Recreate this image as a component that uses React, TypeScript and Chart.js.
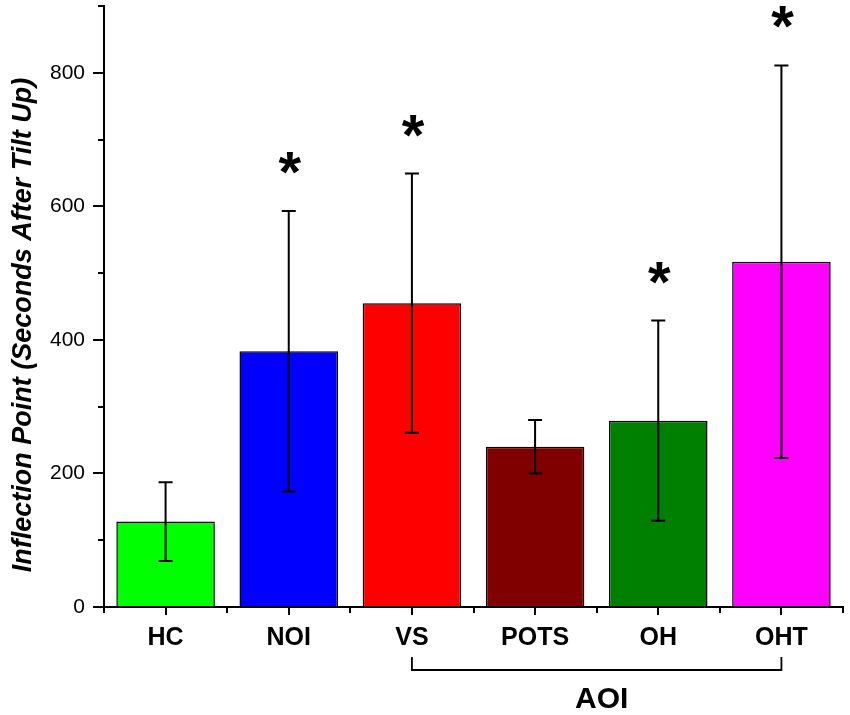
import React, { useEffect, useRef } from "react";
import { Chart, registerables } from "chart.js";

Chart.register(...registerables);

const categories = ["HC", "NOI", "VS", "POTS", "OH", "OHT"];
const means = [128, 383, 455, 240, 279, 517];
const errors = [59, 210, 194, 40, 150, 294];
const colors = ["#00ff00", "#0000ff", "#ff0000", "#800000", "#008000", "#ff00ff"];
const starred = [false, true, true, false, true, true];
const minorY = [100, 300, 500, 700, 900];
const yTitle = "Inflection Point (Seconds After Tilt Up)";
const groupLabel = "AOI";
const groupFrom = 2;
const groupTo = 5;

const FONT = "'Liberation Sans', Arial, sans-serif";

const overlay = {
  id: "overlay",
  afterDraw(chart: any) {
    const { ctx, chartArea } = chart;
    const x = chart.scales.x;
    const y = chart.scales.y;
    ctx.save();
    ctx.strokeStyle = "#000";
    ctx.fillStyle = "#000";

    // minor ticks on y
    ctx.lineWidth = 2;
    minorY.forEach((v) => {
      const py = Math.round(y.getPixelForValue(v));
      ctx.beginPath();
      ctx.moveTo(chartArea.left - 6, py);
      ctx.lineTo(chartArea.left, py);
      ctx.stroke();
    });

    // minor ticks on x at category boundaries
    for (let i = -1; i < categories.length; i++) {
      const px = Math.round(x.getPixelForValue(i + 0.5));
      ctx.beginPath();
      ctx.moveTo(px, chartArea.bottom);
      ctx.lineTo(px, chartArea.bottom + 6);
      ctx.stroke();
    }

    // error bars and stars
    ctx.lineWidth = 2;
    means.forEach((m, i) => {
      const cx = x.getPixelForValue(i);
      const top = y.getPixelForValue(m + errors[i]);
      const bot = y.getPixelForValue(m - errors[i]);
      ctx.beginPath();
      ctx.moveTo(cx, top);
      ctx.lineTo(cx, bot);
      ctx.moveTo(cx - 7, top);
      ctx.lineTo(cx + 7, top);
      ctx.moveTo(cx - 7, bot);
      ctx.lineTo(cx + 7, bot);
      ctx.stroke();
      if (starred[i]) {
        ctx.font = `bold 58px ${FONT}`;
        ctx.textAlign = "center";
        ctx.textBaseline = "alphabetic";
        const mt = ctx.measureText("*");
        const asc = mt.actualBoundingBoxAscent;
        const desc = mt.actualBoundingBoxDescent;
        const center = top - 48;
        ctx.fillText("*", cx + 1, center + (asc - desc) / 2);
      }
    });

    // bracket
    const bx1 = x.getPixelForValue(groupFrom);
    const bx2 = x.getPixelForValue(groupTo);
    const by = chartArea.bottom + 63;
    ctx.lineWidth = 1.8;
    ctx.beginPath();
    ctx.moveTo(bx1, by - 13);
    ctx.lineTo(bx1, by);
    ctx.lineTo(bx2, by);
    ctx.lineTo(bx2, by - 13);
    ctx.stroke();
    ctx.font = `bold 30px ${FONT}`;
    ctx.textAlign = "center";
    ctx.textBaseline = "alphabetic";
    ctx.fillText(groupLabel, (bx1 + bx2) / 2 + 5, chartArea.bottom + 101);

    // y title
    ctx.font = `bold italic 27px ${FONT}`;
    ctx.textBaseline = "alphabetic";
    ctx.translate(31, 325);
    ctx.rotate(-Math.PI / 2);
    ctx.fillText(yTitle, 0, 0);
    ctx.restore();
  },
};

const App: React.FC = () => {
  const canvasRef = useRef<HTMLCanvasElement>(null);

  useEffect(() => {
    if (!canvasRef.current) return;
    const chart = new Chart(canvasRef.current, {
      type: "bar",
      data: {
        labels: categories,
        datasets: [
          {
            data: means,
            backgroundColor: colors,
            borderColor: "#000",
            borderWidth: 1.5,
            categoryPercentage: 0.8,
            barPercentage: 1.0,
          },
        ],
      },
      options: {
        animation: false,
        responsive: true,
        maintainAspectRatio: false,
        layout: { padding: { top: 6, right: 7, left: 0, bottom: 0 } },
        plugins: {
          legend: { display: false },
          tooltip: { enabled: false },
        },
        scales: {
          x: {
            type: "category",
            offset: true,
            grid: {
              offset: false,
              drawOnChartArea: false,
              tickLength: 8,
              lineWidth: 2,
              color: "#000",
            },
            border: { display: true, color: "#000", width: 2 },
            ticks: {
              color: "#000",
              padding: 8,
              font: { family: FONT, size: 25, weight: "bold" },
              maxRotation: 0,
            },
            afterFit: (scale: any) => {
              scale.height = 108;
              scale.paddingLeft = 0;
              scale.paddingRight = 0;
            },
          },
          y: {
            min: 0,
            max: 900,
            grid: {
              drawOnChartArea: false,
              tickLength: 11,
              lineWidth: 2,
              color: "#000",
            },
            border: { display: true, color: "#000", width: 2 },
            ticks: {
              stepSize: 200,
              color: "#000",
              padding: 8,
              font: { family: FONT, size: 21 },
            },
            afterBuildTicks: (scale: any) => {
              scale.ticks = scale.ticks.filter((t: any) => t.value % 200 === 0);
            },
            afterFit: (scale: any) => {
              scale.width = 104;
              scale.paddingTop = 0;
              scale.paddingBottom = 0;
            },
          },
        },
      },
      plugins: [overlay],
    });
    return () => chart.destroy();
  }, []);

  return (
    <div style={{ position: "absolute", left: 0, top: 0, width: 850, height: 715, background: "#fff" }}>
      <canvas ref={canvasRef} />
    </div>
  );
};

export default App;
